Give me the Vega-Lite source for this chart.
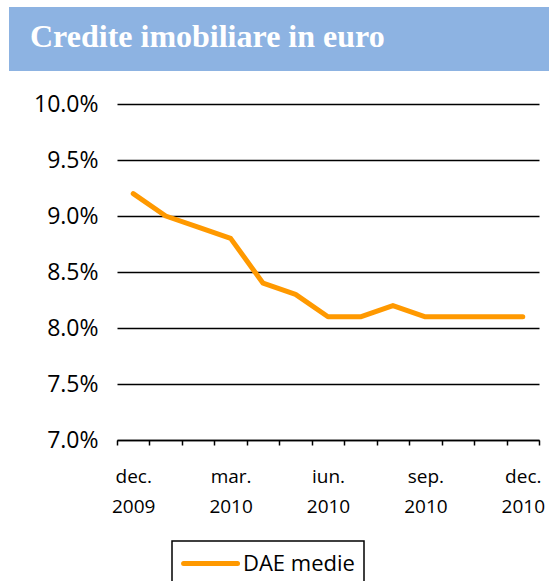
{
  "$schema": "https://vega.github.io/schema/vega-lite/v6.json",
  "padding": {"left": 9, "top": 7, "right": 0, "bottom": 0},
  "background": "white",
  "columns": 1,
  "align": "none",
  "spacing": 22,
  "config": {"view": {"stroke": null}, "font": "Open Sans"},
  "concat": [
    {
      "width": 540,
      "height": 64,
      "view": {"fill": "#8db3e2", "stroke": null},
      "data": {"values": [{"titlu": "Credite imobiliare in euro"}]},
      "mark": {"type": "text", "font": "Liberation Serif", "fontWeight": "bold", "fontSize": 32, "color": "white", "align": "left", "baseline": "alphabetic"},
      "encoding": {"text": {"field": "titlu"}, "x": {"value": 21}, "y": {"value": 40}}
    },
    {
      "width": 531,
      "height": 336,
      "data": {"values": [
        {"luna": "dec. 2009", "dae": 9.2},
        {"luna": "ian. 2010", "dae": 9.0},
        {"luna": "feb. 2010", "dae": 8.9},
        {"luna": "mar. 2010", "dae": 8.8},
        {"luna": "apr. 2010", "dae": 8.4},
        {"luna": "mai 2010", "dae": 8.3},
        {"luna": "iun. 2010", "dae": 8.1},
        {"luna": "iul. 2010", "dae": 8.1},
        {"luna": "aug. 2010", "dae": 8.2},
        {"luna": "sep. 2010", "dae": 8.1},
        {"luna": "oct. 2010", "dae": 8.1},
        {"luna": "noi. 2010", "dae": 8.1},
        {"luna": "dec. 2010", "dae": 8.1}
      ]},
      "mark": {"type": "line", "strokeWidth": 5, "strokeCap": "round", "strokeJoin": "round"},
      "encoding": {
        "x": {
          "field": "luna", "type": "ordinal", "sort": null, "bandPosition": 0.5,
          "scale": {"type": "band", "paddingInner": 0, "paddingOuter": 0, "range": [108, 530]},
          "axis": {
            "title": null, "grid": false, "tickBand": "extent",
            "domainColor": "black", "domainWidth": 1.5,
            "tickColor": "black", "tickWidth": 1.5, "tickSize": 5,
            "labelAngle": 0, "labelOverlap": false, "labelFlush": false,
            "labelFont": "Open Sans", "labelFontSize": 19, "labelColor": "black",
            "labelLineHeight": 30, "labelPadding": 22,
            "labelExpr": "indexof(['dec. 2009','mar. 2010','iun. 2010','sep. 2010','dec. 2010'], datum.value) >= 0 ? split(datum.value, ' ') : ''"
          }
        },
        "y": {
          "field": "dae", "type": "quantitative",
          "scale": {"domain": [7, 10], "nice": false, "zero": false},
          "axis": {
            "title": null, "domain": false, "ticks": false, "offset": -108,
            "values": [7, 7.5, 8, 8.5, 9, 9.5, 10],
            "grid": true, "gridColor": "black", "gridWidth": 1.5, "gridOpacity": 1,
            "labelFont": "Open Sans", "labelFontSize": 23, "labelColor": "black", "labelPadding": 19,
            "labelExpr": "format(datum.value, '.1f') + '%'"
          }
        },
        "color": {
          "datum": "DAE medie",
          "scale": {"range": ["#ff9900"]},
          "legend": {
            "title": null, "orient": "none", "legendX": 163, "legendY": 534,
            "strokeColor": "black", "padding": 9, "cornerRadius": 0,
            "symbolType": "M-3.9,0H1", "symbolSize": 484, "symbolOffset": 32,
            "symbolStrokeWidth": 5, "symbolStrokeColor": "#ff9900",
            "labelFont": "Open Sans", "labelFontSize": 22, "labelColor": "black", "labelOffset": 3,
            "encode": {
              "legend": {"update": {"strokeWidth": {"value": 1.5}}},
              "symbols": {"update": {"strokeCap": {"value": "round"}}}
            }
          }
        }
      }
    }
  ]
}
